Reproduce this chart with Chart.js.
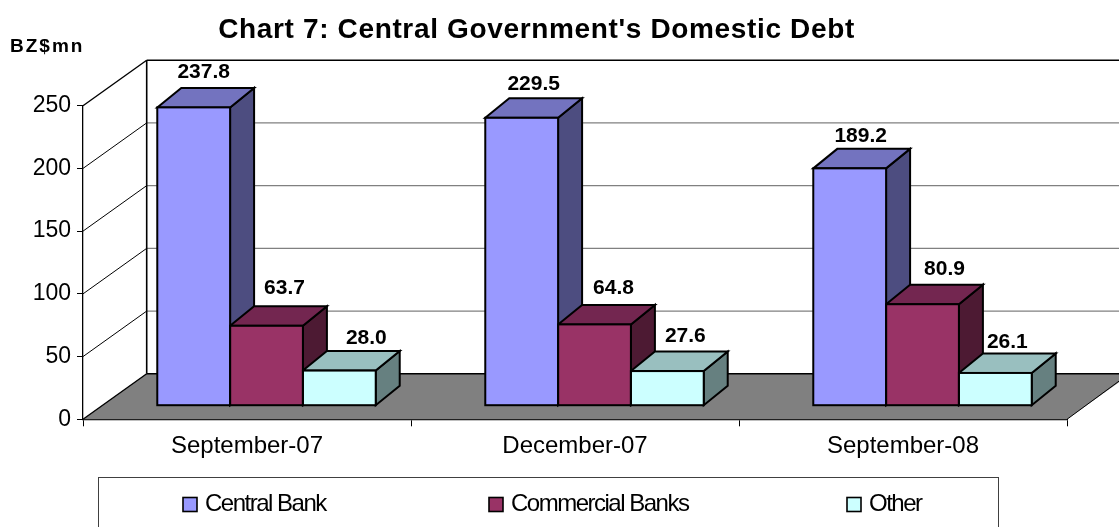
<!DOCTYPE html>
<html>
<head>
<meta charset="utf-8">
<title>Central Government's Domestic Debt</title>
<script src="https://cdn.jsdelivr.net/npm/chart.js@4"></script>
<style>
  html, body { margin: 0; padding: 0; background: #fff; }
  canvas { display: block; }
</style>
</head>
<body>
<canvas id="debt" width="1119" height="527"></canvas>
<script>
const categories = ['September-07', 'December-07', 'September-08'];
const centralBank = [237.8, 229.5, 189.2];
const commercialBanks = [63.7, 64.8, 80.9];
const other = [28.0, 27.6, 26.1];
const yTicks = [0, 50, 100, 150, 200, 250];

const FONT = '"Liberation Sans", Arial, sans-serif';

// Oblique projection of the chart box and of each bar.
const wallDepth = { x: 63.7, y: 45.5 };
const barDepth = { x: 24, y: 19.5 };
const barShift = { x: 19.5, y: -13.6 };

// Hand placement of the value labels relative to each bar's rear top edge, by series then category.
const labelOffsets = [
  [[-2, -17], [0, -15], [-1, -14]],
  [[6, -19], [7, -18], [10, -17]],
  [[15, -14], [6, -16], [0, -12]]
];

const palette = [
  { front: '#9999FF', top: '#7373BF', side: '#4D4D80' },
  { front: '#993366', top: '#732650', side: '#4D1A33' },
  { front: '#CCFFFF', top: '#99BFBF', side: '#668080' }
];

const legendItems = [
  { swatch: 183, text: 205 },
  { swatch: 489, text: 511 },
  { swatch: 847, text: 869 }
];

function poly(ctx, pts, fill, stroke, lw) {
  ctx.beginPath();
  pts.forEach((p, i) => i ? ctx.lineTo(p[0], p[1]) : ctx.moveTo(p[0], p[1]));
  ctx.closePath();
  if (fill) { ctx.fillStyle = fill; ctx.fill(); }
  if (stroke) { ctx.strokeStyle = stroke; ctx.lineWidth = lw; ctx.lineJoin = 'miter'; ctx.stroke(); }
}

function line(ctx, x1, y1, x2, y2, color, lw) {
  ctx.beginPath();
  ctx.moveTo(x1, y1);
  ctx.lineTo(x2, y2);
  ctx.strokeStyle = color;
  ctx.lineWidth = lw;
  ctx.stroke();
}

function text(ctx, str, x, y, font, align, spacing) {
  ctx.save();
  ctx.font = font;
  ctx.fillStyle = '#000';
  ctx.textAlign = align;
  ctx.textBaseline = 'middle';
  ctx.letterSpacing = (spacing || 0) + 'px';
  ctx.fillText(str, x, y);
  ctx.restore();
}

// Floor, back wall, side wall and gridlines of the box behind the bars.
const boxPlugin = {
  id: 'box',
  beforeDatasetsDraw(chart) {
    const { ctx, scales: { x, y }, chartArea: a, width } = chart;
    const d = wallDepth;
    ctx.save();
    const zero = y.getPixelForValue(0);
    const top = y.getPixelForValue(250);
    poly(ctx, [[a.left, zero], [a.left + d.x, zero - d.y], [a.right + d.x, zero - d.y], [a.right, zero]], '#808080');
    yTicks.forEach(v => {
      const py = y.getPixelForValue(v);
      if (v > 0 && v < 250) line(ctx, a.left + d.x, py - d.y, width, py - d.y, '#808080', 1.3);
      line(ctx, a.left, py, a.left + d.x, py - d.y, '#000', v === 0 || v === 250 ? 1.4 : 1);
    });
    line(ctx, a.left + d.x, top - d.y, width, top - d.y, '#000', 1.6);
    line(ctx, a.left + d.x, zero - d.y, width, zero - d.y, '#000', 1.6);
    line(ctx, a.left + d.x, top - d.y, a.left + d.x, zero - d.y, '#000', 1.6);
    line(ctx, a.right, zero, Math.min(a.right + d.x, width + 10), zero - d.y, '#000', 1);
    ctx.restore();
  }
};

// Rear faces of the bars, then the shifted bar fronts, then outlines and value labels.
const barsPlugin = {
  id: 'bars3d',
  beforeDatasetsDraw(chart) {
    const { ctx } = chart;
    const d = barDepth;
    ctx.save();
    ctx.translate(barShift.x, barShift.y);
    chart.data.datasets.forEach((ds, i) => {
      chart.getDatasetMeta(i).data.forEach(bar => {
        const l = bar.x - bar.width / 2, r = bar.x + bar.width / 2;
        poly(ctx, [[r, bar.y], [r + d.x, bar.y - d.y], [r + d.x, bar.base - d.y], [r, bar.base]], palette[i].side, '#000', 2);
        poly(ctx, [[l, bar.y], [l + d.x, bar.y - d.y], [r + d.x, bar.y - d.y], [r, bar.y]], palette[i].top, '#000', 2);
      });
    });
  },
  afterDatasetsDraw(chart) {
    const { ctx } = chart;
    chart.data.datasets.forEach((ds, i) => {
      chart.getDatasetMeta(i).data.forEach((bar, j) => {
        const l = bar.x - bar.width / 2;
        ctx.strokeStyle = '#000';
        ctx.lineWidth = 2;
        ctx.strokeRect(l, bar.y, bar.width, bar.base - bar.y);
        const o = labelOffsets[i][j];
        text(ctx, ds.data[j].toFixed(1), bar.x + barDepth.x / 2 + o[0], bar.y - barDepth.y + o[1] + 1,
          'bold 21px ' + FONT, 'center');
      });
    });
    ctx.restore();
  }
};

// Title, unit caption and the boxed legend.
const furniturePlugin = {
  id: 'furniture',
  afterDraw(chart) {
    const { ctx } = chart;
    text(ctx, "Chart 7: Central Government's Domestic Debt", 536.5, 30, 'bold 28px ' + FONT, 'center', 0.65);
    text(ctx, 'BZ$mn', 10, 47, 'bold 19px ' + FONT, 'left', 2);
    ctx.save();
    ctx.strokeStyle = '#404040';
    ctx.lineWidth = 1;
    ctx.strokeRect(98.5, 477.5, 900, 60);
    chart.data.datasets.forEach((ds, i) => {
      ctx.fillStyle = palette[i].front;
      ctx.fillRect(legendItems[i].swatch, 497.5, 14, 14);
      ctx.strokeStyle = '#000';
      ctx.lineWidth = 1.6;
      ctx.strokeRect(legendItems[i].swatch, 497.5, 14, 14);
      text(ctx, ds.label, legendItems[i].text, 504, '24px ' + FONT, 'left', -1.5);
    });
    ctx.restore();
  }
};

const makeSeries = (label, data, i) => ({
  label,
  data,
  backgroundColor: palette[i].front,
  borderWidth: 0,
  clip: false,
  categoryPercentage: 0.666,
  barPercentage: 1
});

new Chart(document.getElementById('debt'), {
  type: 'bar',
  data: {
    labels: categories,
    datasets: [
      makeSeries('Central Bank', centralBank, 0),
      makeSeries('Commercial Banks', commercialBanks, 1),
      makeSeries('Other', other, 2)
    ]
  },
  plugins: [boxPlugin, barsPlugin, furniturePlugin],
  options: {
    responsive: false,
    animation: false,
    layout: { padding: { left: 0, right: 52, top: 105.7, bottom: 67.7 } },
    plugins: { legend: { display: false }, title: { display: false }, tooltip: { enabled: false } },
    scales: {
      x: {
        afterFit(s) { s.height = 40; },
        grid: { drawOnChartArea: false, color: '#000', tickLength: 7, lineWidth: 1 },
        border: { color: '#000', width: 1.3 },
        ticks: { color: '#000', font: { family: FONT, size: 24 }, padding: 6, maxRotation: 0 }
      },
      y: {
        min: 0,
        max: 250,
        afterFit(s) { s.width = 83; },
        afterBuildTicks(s) { s.ticks = yTicks.map(value => ({ value })); },
        grid: { drawOnChartArea: false, color: '#000', tickLength: 6, lineWidth: 1 },
        border: { color: '#000', width: 1.3 },
        ticks: { color: '#000', font: { family: FONT, size: 23 }, padding: 6 }
      }
    }
  }
});
</script>
</body>
</html>
